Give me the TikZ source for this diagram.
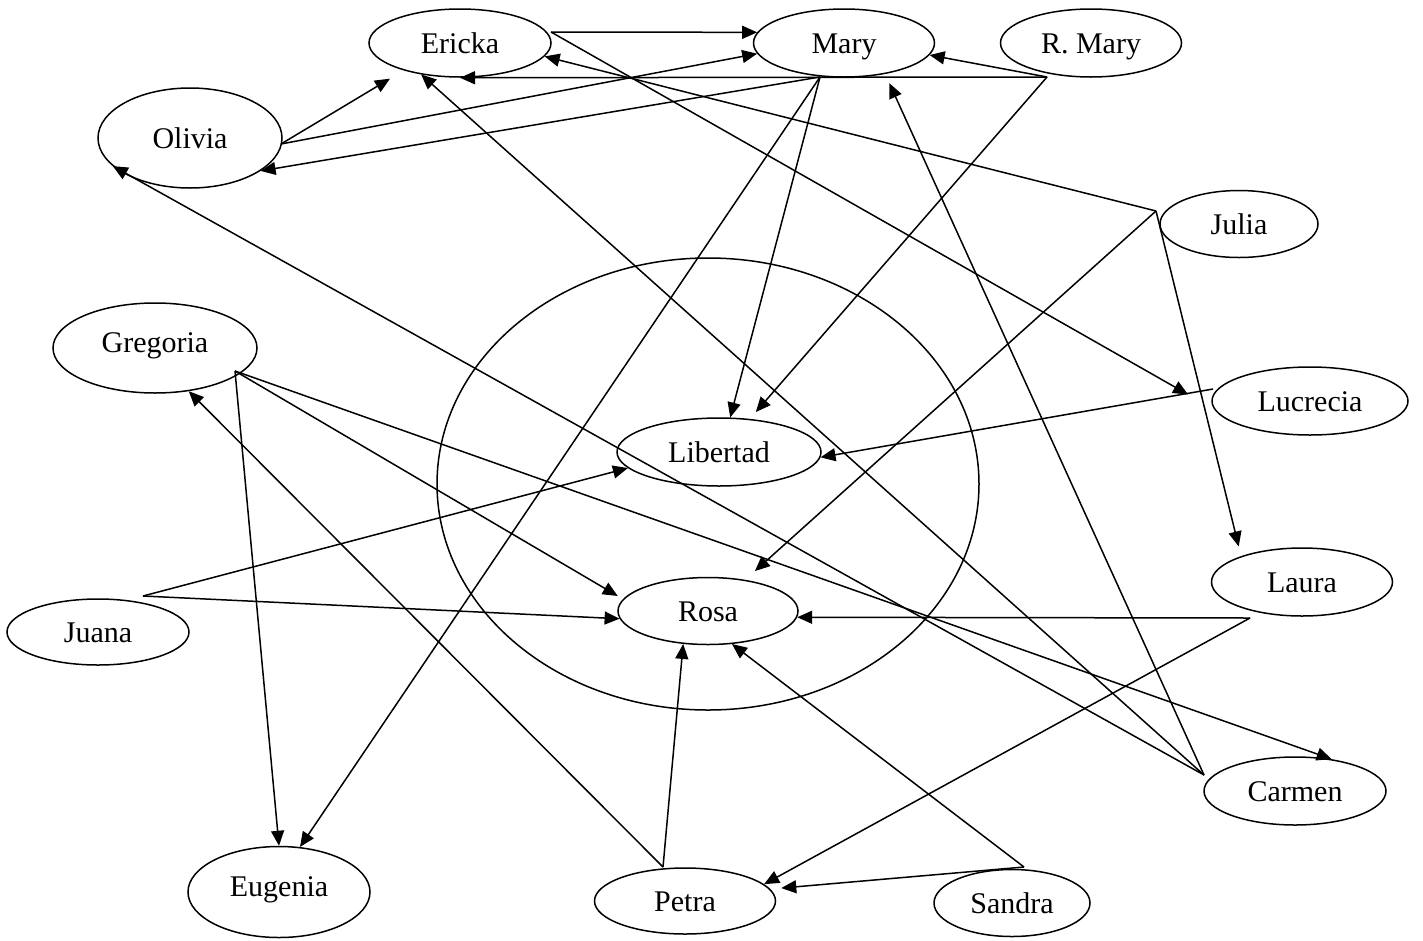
\documentclass[tikz,border=0pt]{standalone}
\usepackage{fontspec}
\setmainfont{Liberation Serif}
\usetikzlibrary{shapes.geometric,arrows.meta}
\tikzset{
  person/.style={draw, ellipse, line width=1.5pt, inner sep=0pt, text height=20pt, text depth=0pt, font=\fontsize{30}{36}\selectfont},
  tie/.style={line width=1.5pt, -{Triangle[length=15pt,width=13pt]}},
}
\begin{document}
\begin{tikzpicture}[x=1pt,y=-1pt]
\useasboundingbox (0,0) rectangle (1423,940);
\node[draw, ellipse, line width=1.5pt, minimum width=542pt, minimum height=452pt] (ring) at (708,484) {};
\node[person, minimum width=182pt, minimum height=68pt] (ericka) at (460,43) {Ericka};
\node[person, minimum width=181pt, minimum height=68pt] (mary) at (844,43) {Mary};
\node[person, minimum width=181pt, minimum height=68pt] (rmary) at (1091,43) {R. Mary};
\node[person, minimum width=184pt, minimum height=100pt] (olivia) at (190,138) {Olivia};
\node[person, minimum width=158pt, minimum height=67pt] (julia) at (1239,224) {Julia};
\node[person, minimum width=204pt, minimum height=90pt, text depth=12pt] (gregoria) at (155,348) {Gregoria};
\node[person, minimum width=196pt, minimum height=68pt] (lucrecia) at (1310,401) {Lucrecia};
\node[person, minimum width=204pt, minimum height=68pt] (libertad) at (719,452) {Libertad};
\node[person, minimum width=181pt, minimum height=68pt] (laura) at (1302,582) {Laura};
\node[person, minimum width=180pt, minimum height=67pt] (rosa) at (708,611) {Rosa};
\node[person, minimum width=182pt, minimum height=66pt] (juana) at (98,632) {Juana};
\node[person, minimum width=182pt, minimum height=68pt] (carmen) at (1295,791) {Carmen};
\node[person, minimum width=182pt, minimum height=91pt, text depth=11pt] (eugenia) at (279,892) {Eugenia};
\node[person, minimum width=181pt, minimum height=66pt] (petra) at (685,901) {Petra};
\node[person, minimum width=156pt, minimum height=67pt] (sandra) at (1012,903) {Sandra};

\coordinate (erickaO) at (551,32);
\coordinate (maryO) at (820,77);
\coordinate (rmaryO) at (1047,77);
\coordinate (oliviaO) at (281,144);
\coordinate (juliaO) at (1156,211);
\coordinate (gregoriaO) at (235,371);
\coordinate (lucreciaO) at (1213,389);
\coordinate (lauraO) at (1250,618);
\coordinate (carmenO) at (1204,775);
\coordinate (juanaO) at (143,596);
\coordinate (petraO) at (663,867);
\coordinate (sandraO) at (1024,867);

\draw[tie] (erickaO) -- (mary.173);
\draw[tie, shorten >=30pt] (erickaO) -- (lucrecia.185);
\draw[tie] (rmaryO) -- (ericka.south);
\draw[tie] (rmaryO) -- (mary.-8);
\draw[tie, shorten >=9pt] (rmaryO) -- (libertad.47);
\draw[tie] (maryO) -- (olivia.-25);
\draw[tie] (maryO) -- (libertad.72);
\draw[tie] (maryO) -- (eugenia.65);
\draw[tie, shorten >=16pt] (oliviaO) -- (ericka.206);
\draw[tie] (oliviaO) -- (mary.187);
\draw[tie] (juliaO) -- (ericka.-9);
\draw[tie, shorten >=13pt] (juliaO) -- (rosa.40);
\draw[tie, shorten >=10pt] (juliaO) -- (laura.157);
\draw[tie] (gregoriaO) -- (eugenia.north);
\draw[tie, shorten >=6pt] (gregoriaO) -- (rosa.172);
\draw[tie] (gregoriaO) -- (carmen.41);
\draw[tie] (petraO) -- (gregoria.-52);
\draw[tie] (petraO) -- (rosa.233);
\draw[tie] (carmenO) -- (olivia.200);
\draw[tie] (carmenO) -- (ericka.219);
\draw[tie, shorten >=10pt] (carmenO) -- (mary.-37);
\draw[tie] (lucreciaO) -- (libertad.-3);
\draw[tie] (lauraO) -- (rosa.-4);
\draw[tie] (lauraO) -- (petra.12);
\draw[tie, shorten >=11pt] (sandraO) -- (petra.8);
\draw[tie] (sandraO) -- (rosa.-54);
\draw[tie] (juanaO) -- (libertad.190);
\draw[tie] (juanaO) -- (rosa.185);
\end{tikzpicture}
\end{document}
